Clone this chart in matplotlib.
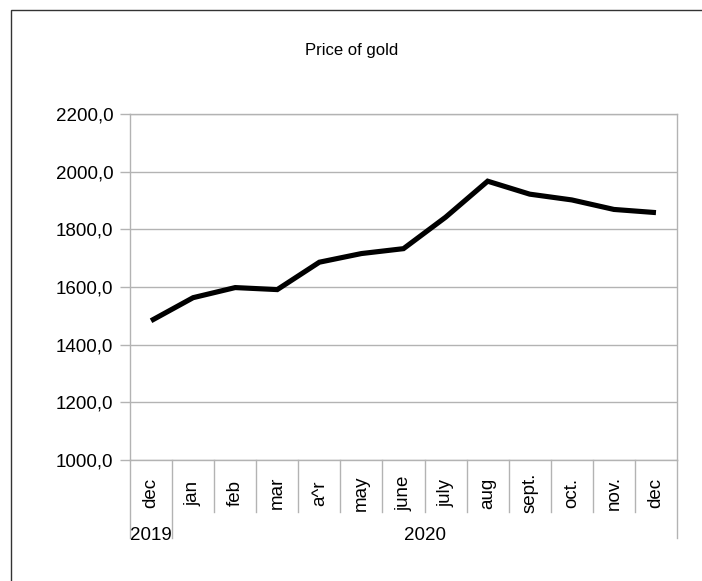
import matplotlib
matplotlib.use("Agg")
import matplotlib.pyplot as plt
import matplotlib.transforms as mtransforms
from matplotlib.patches import Rectangle
from matplotlib.ticker import FuncFormatter

plt.rcParams["font.family"] = ["Liberation Sans", "DejaVu Sans"]

# =========================
# DATA
# =========================
months = ["dec", "jan", "feb", "mar", "a^r", "may", "june", "july",
          "aug", "sept.", "oct.", "nov.", "dec"]
years = ["2019", "2020"]
year_span = [1, 12]          # number of months under each year
price = [1483, 1563, 1598, 1591, 1686, 1716, 1733, 1842,
         1967, 1922, 1902, 1869, 1858]
y_ticks = [1000, 1200, 1400, 1600, 1800, 2000, 2200]

GRID = "#b3b3b3"
FS = 13.5

fig = plt.figure(figsize=(7.02, 5.81), dpi=100)

# outer chart frame (cropped on right/bottom)
fig.patches.append(Rectangle((11 / 702, -0.1), 1.2, 1 - 10 / 581 + 0.1,
                             transform=fig.transFigure, fill=False,
                             edgecolor="#333333", linewidth=1.0))

ax = fig.add_axes([130 / 702, 1 - 460 / 581, 547 / 702, 346 / 581])

x = list(range(len(months)))
ax.plot(x, price, color="black", linewidth=3.7, solid_joinstyle="miter",
        solid_capstyle="butt")

ax.set_xlim(-0.5, len(months) - 0.5)
ax.set_ylim(1000, 2200)
ax.set_yticks(y_ticks)
ax.yaxis.set_major_formatter(FuncFormatter(lambda v, p: f"{v:.1f}".replace(".", ",")))
ax.tick_params(axis="y", length=7, width=1, color=GRID, pad=5, labelsize=FS)
ax.set_xticks([])
ax.grid(axis="y", color=GRID, linewidth=1)
ax.set_axisbelow(True)
for s in ax.spines.values():
    s.set_color(GRID)
    s.set_linewidth(1)

fig.text(352 / 702, 1 - 50 / 581, "Price of gold", ha="center", va="center",
         fontsize=12)

# category axis: month labels with separators, year row below
trans = mtransforms.blended_transform_factory(ax.transData, ax.transAxes)
h = 346.0
for i, m in enumerate(months):
    ax.text(i, -33 / h, m, transform=trans, rotation=90, ha="center",
            va="center", fontsize=FS)

boundaries = [-0.5]
for n in year_span:
    boundaries.append(boundaries[-1] + n)
for i in range(len(months) + 1):
    xb = i - 0.5
    y_end = -78 / h if xb in boundaries else -52 / h
    ax.plot([xb, xb], [0, y_end], transform=trans, color=GRID,
            linewidth=1, clip_on=False)

ax.text(boundaries[0] + 0.01, -75 / h, years[0], transform=trans,
        ha="left", va="center", fontsize=FS)
ax.text((boundaries[1] + boundaries[2]) / 2, -75 / h, years[1],
        transform=trans, ha="center", va="center", fontsize=FS)

fig.savefig("out.png", dpi=100, facecolor="white")
